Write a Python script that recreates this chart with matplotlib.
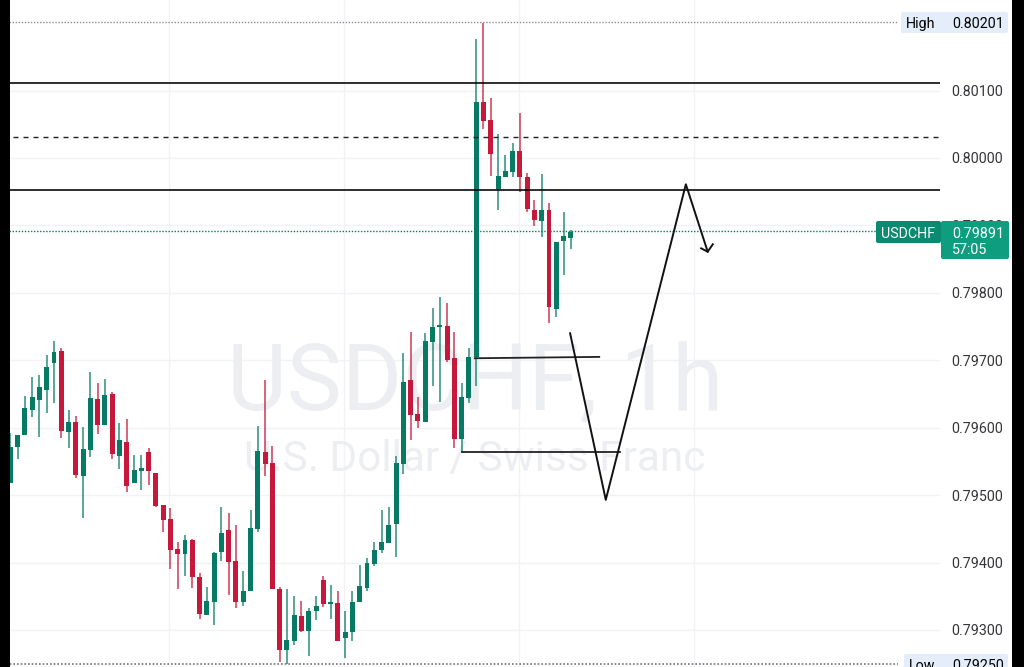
import matplotlib
matplotlib.use("Agg")
import matplotlib.pyplot as plt
from matplotlib.patches import FancyBboxPatch, Rectangle
from matplotlib.transforms import Affine2D

plt.rcParams["font.family"] = ["Roboto", "DejaVu Sans"]

GREEN = "#067a65"
RED = "#c5183a"
GRID = "#f0f2f6"

opens = [
    0.79518, 0.79571, 0.79589, 0.79626, 0.79641, 0.79656, 0.79696, 0.79714, 0.79594, 0.79609,
    0.79528, 0.79567, 0.79643, 0.79604, 0.79650, 0.79558, 0.79579, 0.79518, 0.79536, 0.79564,
    0.79533, 0.79485, 0.79465, 0.79420, 0.79413, 0.79433, 0.79379, 0.79322, 0.79341, 0.79416,
    0.79448, 0.79402, 0.79341, 0.79358, 0.79450, 0.79564, 0.79548, 0.79361, 0.79270, 0.79284,
    0.79321, 0.79299, 0.79328, 0.79374, 0.79339, 0.79340, 0.79288, 0.79297, 0.79341, 0.79362,
    0.79398, 0.79419, 0.79429, 0.79457, 0.79546, 0.79671, 0.79620, 0.79609, 0.79727, 0.79749,
    0.79751, 0.79703, 0.79583, 0.79644, 0.79705, 0.80083, 0.80056, 0.79954, 0.79972, 0.79979,
    0.80010, 0.79972, 0.79923, 0.79907, 0.79923, 0.79776, 0.79877, 0.79881,
]
highs = [
    0.79592, 0.79589, 0.79647, 0.79675, 0.79678, 0.79708, 0.79729, 0.79718, 0.79626, 0.79617,
    0.79601, 0.79683, 0.79666, 0.79672, 0.79653, 0.79607, 0.79613, 0.79560, 0.79560, 0.79570,
    0.79533, 0.79485, 0.79481, 0.79431, 0.79441, 0.79435, 0.79385, 0.79364, 0.79416, 0.79482,
    0.79474, 0.79456, 0.79388, 0.79478, 0.79603, 0.79671, 0.79573, 0.79364, 0.79361, 0.79350,
    0.79343, 0.79333, 0.79350, 0.79380, 0.79367, 0.79358, 0.79328, 0.79358, 0.79396, 0.79407,
    0.79431, 0.79478, 0.79482, 0.79558, 0.79711, 0.79742, 0.79646, 0.79740, 0.79778, 0.79794,
    0.79785, 0.79742, 0.79666, 0.79718, 0.80177, 0.80200, 0.80089, 0.80036, 0.80004, 0.80022,
    0.80067, 0.79978, 0.79938, 0.79976, 0.79933, 0.79875, 0.79920, 0.79893,
]
lows = [
    0.79518, 0.79554, 0.79589, 0.79616, 0.79586, 0.79622, 0.79637, 0.79585, 0.79570, 0.79525,
    0.79466, 0.79557, 0.79591, 0.79604, 0.79554, 0.79539, 0.79505, 0.79518, 0.79508, 0.79515,
    0.79482, 0.79445, 0.79390, 0.79361, 0.79380, 0.79362, 0.79316, 0.79322, 0.79307, 0.79402,
    0.79352, 0.79333, 0.79336, 0.79358, 0.79445, 0.79528, 0.79361, 0.79253, 0.79250, 0.79278,
    0.79297, 0.79261, 0.79315, 0.79334, 0.79316, 0.79284, 0.79258, 0.79284, 0.79341, 0.79358,
    0.79395, 0.79414, 0.79429, 0.79408, 0.79531, 0.79582, 0.79600, 0.79609, 0.79662, 0.79638,
    0.79697, 0.79570, 0.79563, 0.79637, 0.79662, 0.80043, 0.79973, 0.79923, 0.79972, 0.79972,
    0.79950, 0.79920, 0.79899, 0.79883, 0.79755, 0.79764, 0.79826, 0.79865,
]
closes = [
    0.79571, 0.79589, 0.79629, 0.79646, 0.79660, 0.79690, 0.79712, 0.79595, 0.79609, 0.79530,
    0.79568, 0.79644, 0.79604, 0.79648, 0.79561, 0.79582, 0.79514, 0.79537, 0.79540, 0.79536,
    0.79484, 0.79463, 0.79419, 0.79413, 0.79433, 0.79379, 0.79324, 0.79343, 0.79414, 0.79444,
    0.79401, 0.79341, 0.79358, 0.79451, 0.79566, 0.79546, 0.79361, 0.79270, 0.79285, 0.79322,
    0.79299, 0.79328, 0.79336, 0.79339, 0.79340, 0.79284, 0.79297, 0.79341, 0.79365, 0.79399,
    0.79419, 0.79431, 0.79456, 0.79548, 0.79668, 0.79619, 0.79610, 0.79729, 0.79749, 0.79751,
    0.79700, 0.79583, 0.79646, 0.79705, 0.80083, 0.80055, 0.80006, 0.79973, 0.79981, 0.80010,
    0.79972, 0.79924, 0.79908, 0.79923, 0.79779, 0.79875, 0.79884, 0.79890,
]

price_ticks = [0.80100, 0.80000, 0.79900, 0.79800, 0.79700, 0.79600, 0.79500, 0.79400, 0.79300]
time_grid = [21.85, 45.85, 69.85, 93.85]

high_price = 0.80201
low_price = 0.79250
last_price = 0.79891
solid_levels = [0.80111, 0.79952]
dashed_level = 0.80031

# hand drawn lines on top of the chart
break_x = [63.8, 80.9]
break_y = [0.79703, 0.79705]
sweep_x = [62.0, 83.8]
sweep_y = [0.79564, 0.79564]
path_x = [76.9, 81.8, 92.8, 95.8]
path_y = [0.79740, 0.79493, 0.79961, 0.79861]
head_x = [94.9, 95.8, 96.5]
head_y = [0.79866, 0.79861, 0.79872]

W, H = 1024, 667
fig = plt.figure(figsize=(W / 100, H / 100), dpi=100, facecolor="white")
ax = fig.add_axes([0, 0, 1, 1])
ax.set_xlim(-1.415, 139.25)
ax.set_ylim(0.792451, 0.802343)
ax.axis("off")

# pixel space, origin top left, for the price scale labels
px = Affine2D().scale(1 / W, -1 / H).translate(0, 1) + fig.transFigure
scale_x = 940.5
scale_end = (scale_x - 10.3) / 7.28

ax.hlines(price_ticks, -1.415, scale_end, color=GRID, lw=1, zorder=1)
ax.vlines(time_grid, 0.792451, 0.802343, color=GRID, lw=1, zorder=1)

ax.text(475 / W, 1 - 384 / H, "USDCHF, 1h", transform=ax.transAxes, color="#eceef2",
        fontsize=66.5, ha="center", va="center", zorder=2)
ax.text(475 / W, 1 - 459 / H, "U.S. Dollar / Swiss Franc", transform=ax.transAxes,
        color="#eceef2", fontsize=30.5, ha="center", va="center", zorder=2)

ax.hlines(high_price, -0.6, 122, color="#8a8d96", lw=1, ls=(0, (1, 1.2)), zorder=3)
ax.hlines(low_price, -0.6, 122, color="#6f727a", lw=1.2, ls=(0, (1, 1.2)), zorder=3)
ax.hlines(last_price, -0.6, 119, color=GREEN, lw=1, ls=(0, (1, 1.2)), zorder=3)

for i in range(len(opens)):
    color = GREEN if closes[i] >= opens[i] else RED
    ax.vlines(i, lows[i], highs[i], color=color, lw=1.1, alpha=0.85, zorder=4)
    bottom = min(opens[i], closes[i])
    height = max(abs(closes[i] - opens[i]), 0.00003)
    ax.bar(i, height, bottom=bottom, width=0.68, color=color, lw=0, zorder=5)

ax.hlines(solid_levels, -0.1, scale_end, color="black", lw=1.15, zorder=6)
ax.hlines(dashed_level, 0.4, scale_end, color="#222222", lw=1, ls=(0, (3.6, 3.6)), zorder=6)
ax.plot(break_x, break_y, color="#222222", lw=1.3, zorder=6)
ax.plot(sweep_x, sweep_y, color="#222222", lw=1.3, zorder=6)
ax.plot(path_x, path_y, color="#111111", lw=1.4, zorder=6)
ax.plot(head_x, head_y, color="#111111", lw=1.4, zorder=6)

for p in price_ticks:
    ax.text(951 / W, (p - 0.792451) / (0.802343 - 0.792451), f"{p:.5f}", transform=ax.transAxes,
            color="#35353a", fontsize=10.3, ha="left", va="center_baseline", zorder=7)


def box(x0, y0, x1, y1, color):
    fig.add_artist(FancyBboxPatch((x0, y0), x1 - x0, y1 - y0, boxstyle="round,pad=0,rounding_size=2",
                                  transform=px, fc=color, ec="none", zorder=8))


def edge(x0, x1):
    fig.add_artist(Rectangle((x0, 0), x1 - x0, H, transform=px, fc="black", ec="none", zorder=10))


def label(x, y, s, color="black"):
    fig.text(x, y, s, transform=px, color=color, fontsize=10.3, ha="left", va="center_baseline", zorder=9)


box(901, 12, 1008, 33, "#e3eefa")
label(906, 22.5, "High")
label(952, 22.5, "0.80201")

box(904, 654, 1008, 672, "#e3eefa")
label(909, 665, "Low")
label(952, 665, "0.79250")

box(876, 221, 941, 243, "#0a8a70")
box(941, 221, 1009, 259, "#0f9d80")
label(881, 232.5, "USDCHF", "white")
label(952, 232, f"{last_price:.5f}", "white")
label(952, 249, "57:05", "white")

# black phone screen edges
edge(0, 9.5)
edge(1012, W)

fig.savefig("out.png", dpi=100, facecolor="white")
